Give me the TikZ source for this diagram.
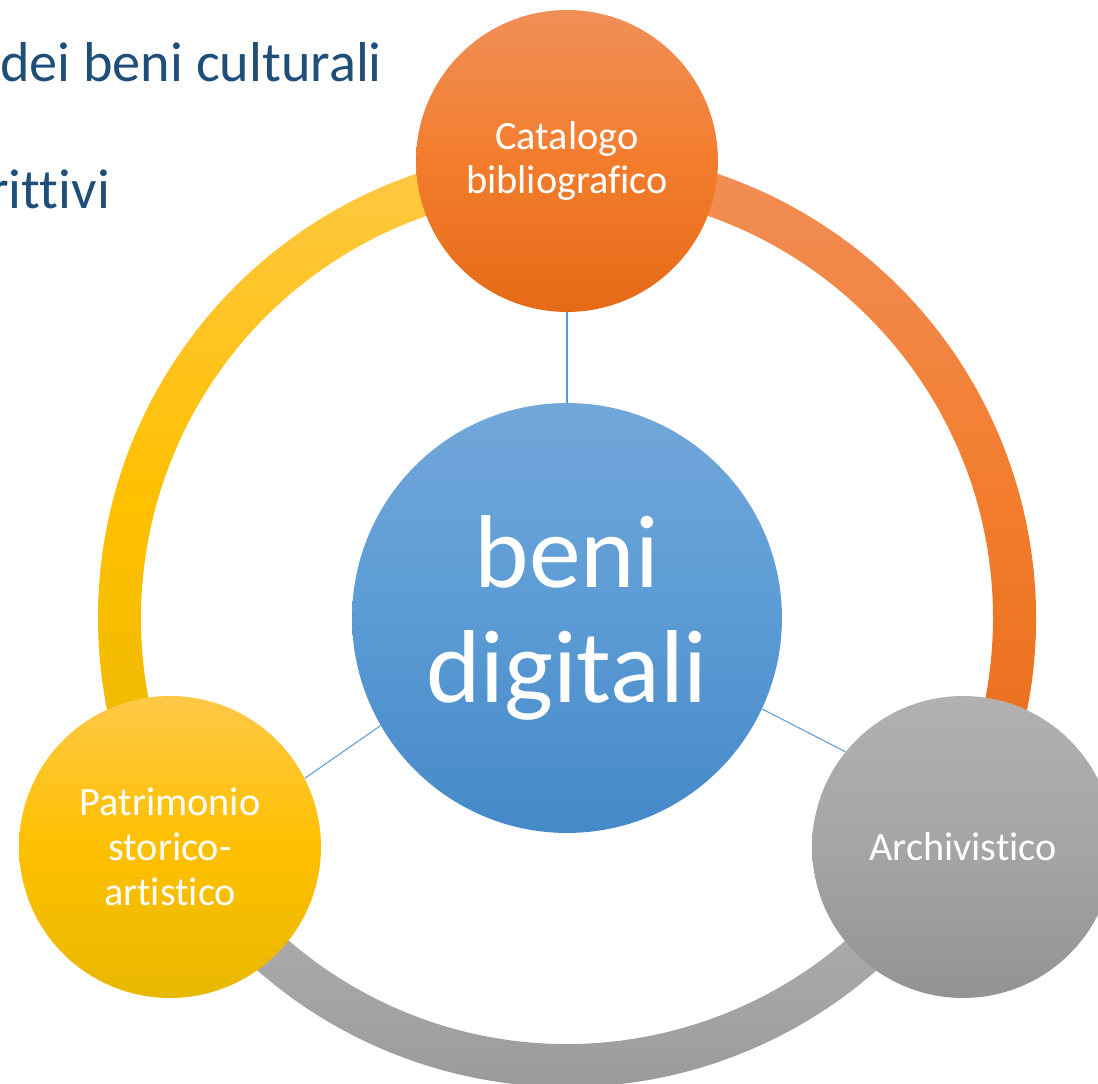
\documentclass[tikz,border=0pt]{standalone}
\usepackage{fontspec}
\setmainfont[Ligatures=NoCommon]{Carlito}
\usetikzlibrary{calc}
\definecolor{titleblue}{RGB}{31,78,121}
\definecolor{linkblue}{RGB}{91,155,213}
\definecolor{ylTop}{RGB}{255,200,70}
\definecolor{ylMid}{RGB}{255,192,0}
\definecolor{ylBot}{RGB}{232,184,0}
\definecolor{orTop}{RGB}{241,142,88}
\definecolor{orMid}{RGB}{243,125,45}
\definecolor{orBot}{RGB}{229,106,22}
\definecolor{buTop}{RGB}{114,167,218}
\definecolor{buMid}{RGB}{91,155,213}
\definecolor{buBot}{RGB}{69,137,200}
\definecolor{gyTop}{RGB}{177,177,177}
\definecolor{gyMid}{RGB}{165,165,165}
\definecolor{gyBot}{RGB}{147,147,147}
\tikzset{
  smallnode/.style={circle, minimum size=6.04cm, inner sep=0pt, draw=none, text=white, align=center,
    font=\fontsize{22.9}{25.5}\selectfont},
  bignode/.style={circle, minimum size=8.6cm, inner sep=0pt, draw=none, text=white, align=center,
    font=\fontsize{59}{65}\selectfont},
  yshade/.style={top color=ylTop, bottom color=ylBot, middle color=ylMid},
  oshade/.style={top color=orTop, bottom color=orBot, middle color=orMid},
  bshade/.style={top color=buTop, bottom color=buBot, middle color=buMid},
  gshade/.style={top color=gyTop, bottom color=gyBot, middle color=gyMid},
  link/.style={draw=linkblue, line width=0.6pt},
  heading/.style={anchor=base west, inner sep=0pt, text=titleblue, font=\fontsize{32}{37}\selectfont}
}
\begin{document}
\begin{tikzpicture}[x=0.02cm,y=0.02cm]
\useasboundingbox (0,0) rectangle (1098,1084);
\clip (0,0) rectangle (1098,1084);
\coordinate (O) at (567,466);
% ring arcs
\shade[yshade] ($(O)+(90:469)$) arc[start angle=90,end angle=210,radius=469]
  -- ($(O)+(210:426)$) arc[start angle=210,end angle=90,radius=426] -- cycle;
\shade[oshade] ($(O)+(-30:469)$) arc[start angle=-30,end angle=90,radius=469]
  -- ($(O)+(90:426)$) arc[start angle=90,end angle=-30,radius=426] -- cycle;
\shade[gshade] ($(O)+(210:469)$) arc[start angle=210,end angle=330,radius=469]
  -- ($(O)+(330:426)$) arc[start angle=330,end angle=210,radius=426] -- cycle;
% heading text
\node[heading] (h1) at (0,1002) {dei beni culturali};
\node[heading] (h2) at (-11,875) {rittivi};
% nodes
\node[bignode, bshade] (C) at (567,466) {beni\\digitali};
\node[smallnode, oshade] (T) at (567,923) {Catalogo\\bibliografico};
\node[smallnode, yshade] (P) at (170,237) {Patrimonio\\storico-\\artistico};
\node[smallnode, gshade] (A) at (963,237) {Archivistico};
% connectors
\draw[link] (T.south) -- (C.north);
\draw[link] (C.210) -- (P.27);
\draw[link] (C.-25) -- (A.141);
\end{tikzpicture}
\end{document}
